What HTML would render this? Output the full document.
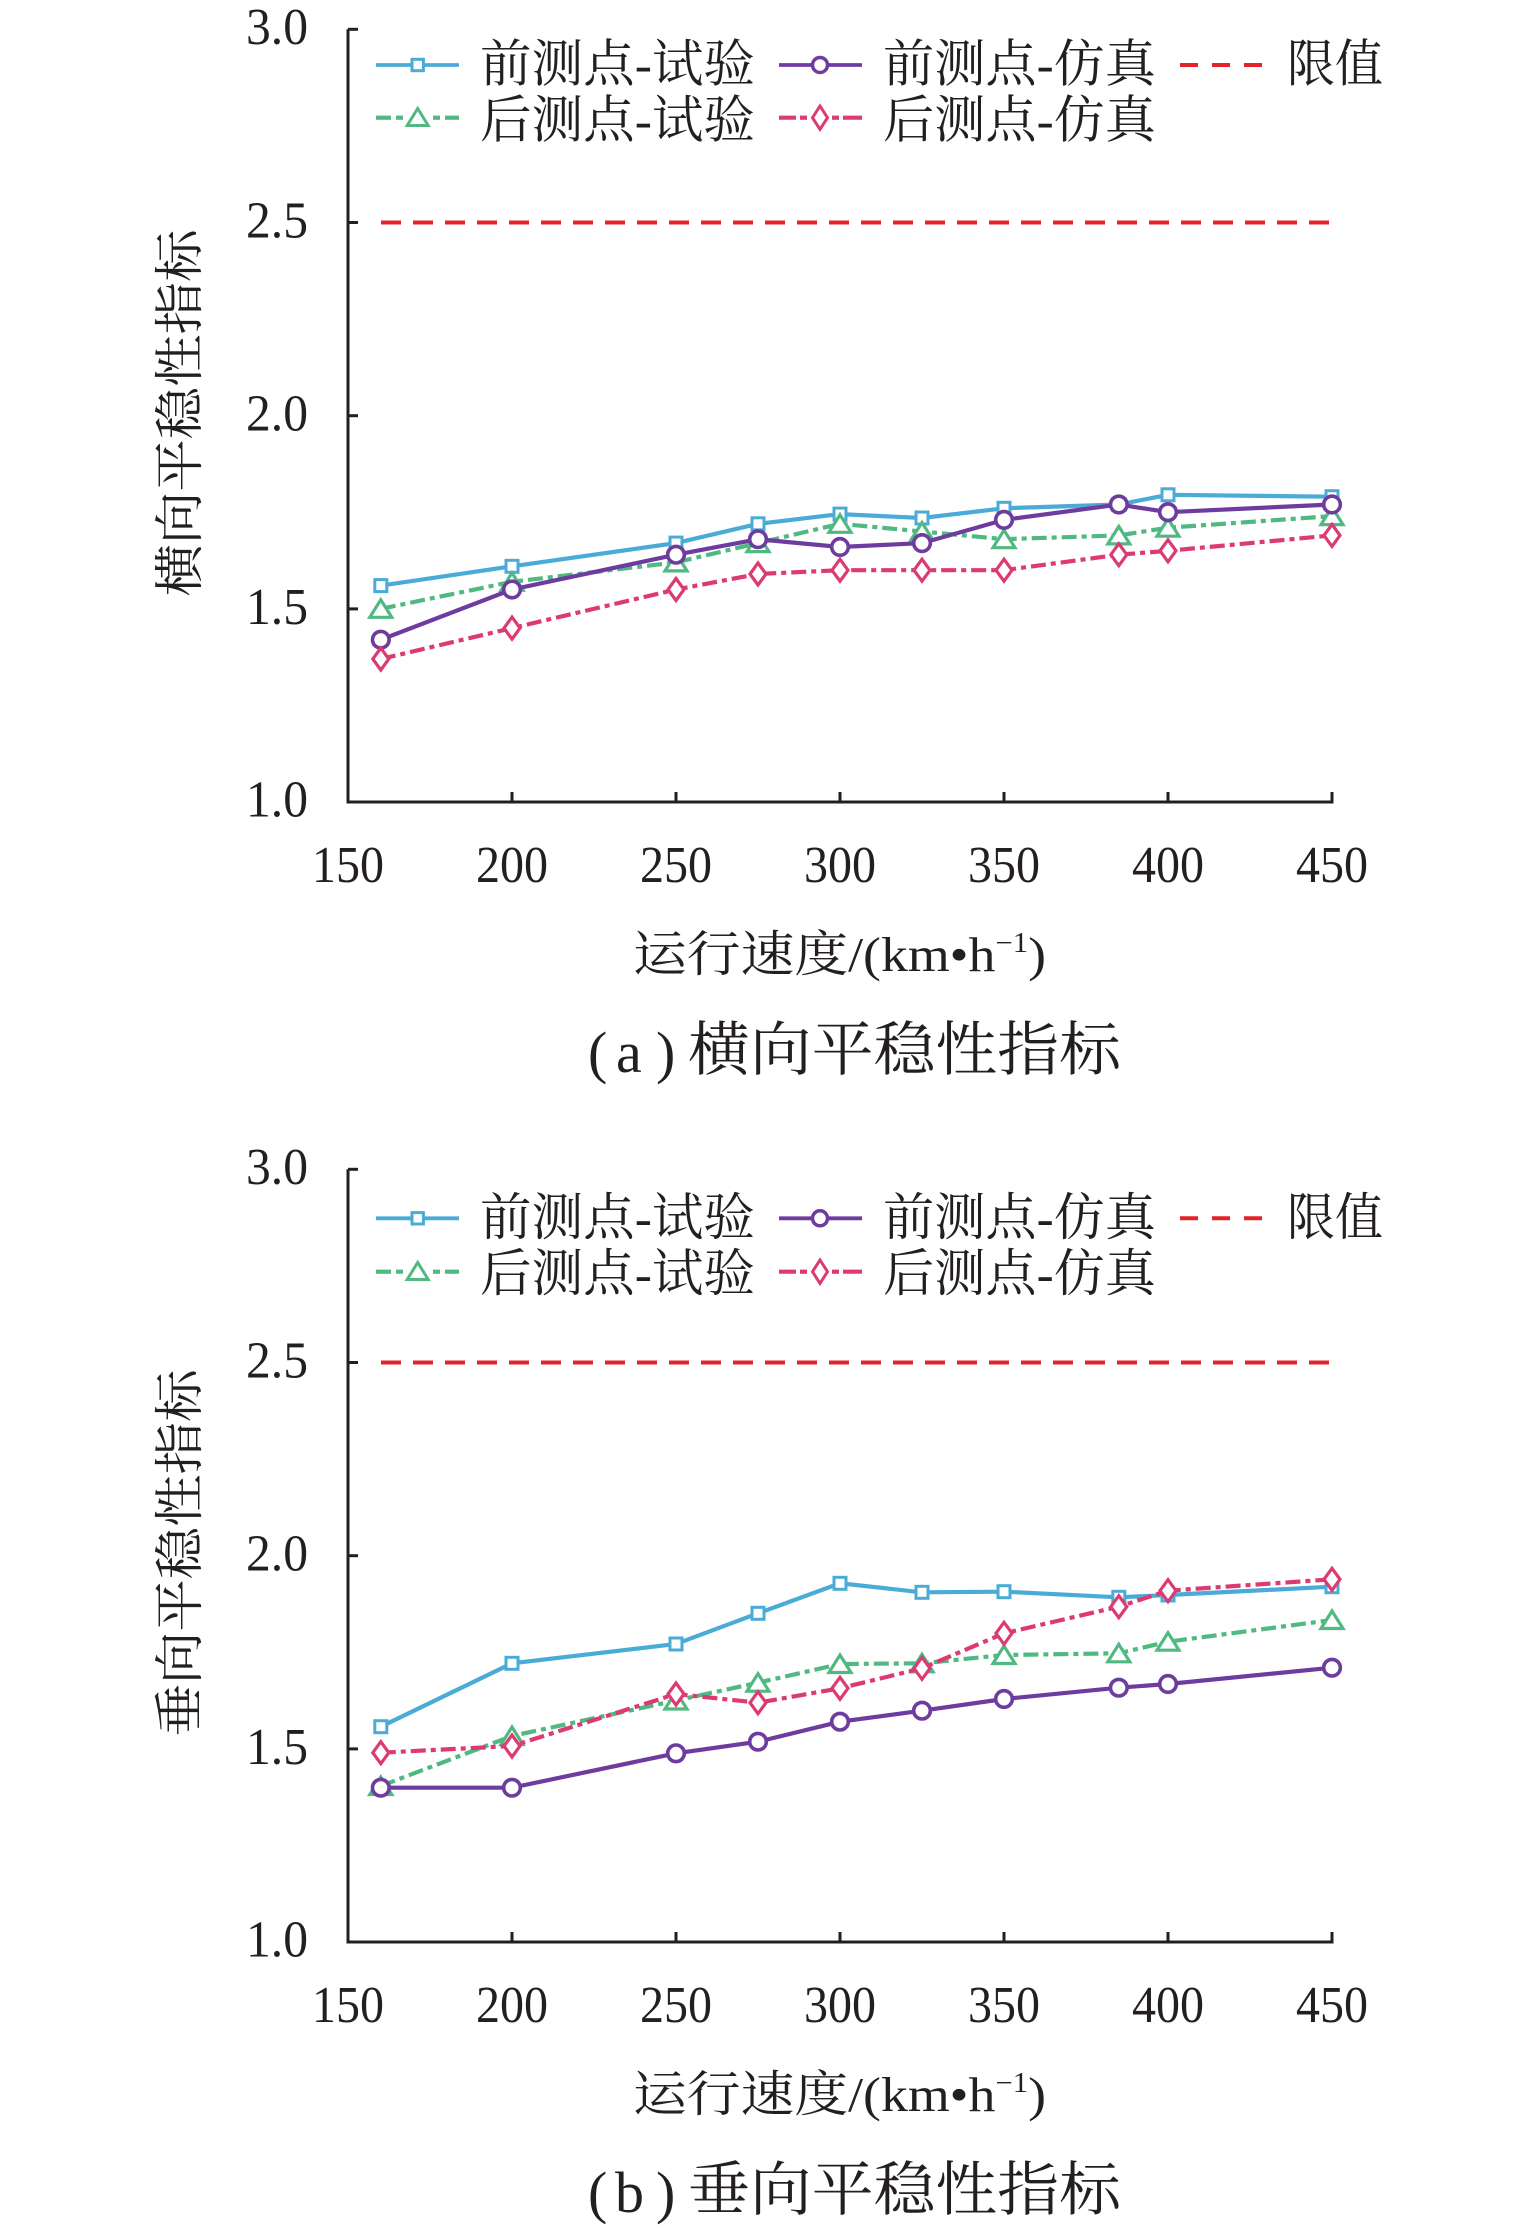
<!DOCTYPE html>
<html>
<head>
<meta charset="utf-8">
<style>
html,body{margin:0;padding:0;background:#fff;}
svg{display:block;}
text{font-family:"Liberation Serif","Noto Serif CJK SC",serif;fill:#231f20;}
</style>
</head>
<body>
<svg width="1535" height="2231" viewBox="0 0 1535 2231" xmlns="http://www.w3.org/2000/svg">
<defs>
  <marker id="mSq" markerUnits="userSpaceOnUse" markerWidth="30" markerHeight="30" refX="0" refY="0" overflow="visible">
    <rect x="-6" y="-6" width="12" height="12" fill="#fff" stroke="#4aacd6" stroke-width="3"/>
  </marker>
  <marker id="mCi" markerUnits="userSpaceOnUse" markerWidth="30" markerHeight="30" refX="0" refY="0" overflow="visible">
    <circle cx="0" cy="0" r="8.3" fill="#fff" stroke="#6e3b9f" stroke-width="3.6"/>
  </marker>
  <marker id="mTr" markerUnits="userSpaceOnUse" markerWidth="30" markerHeight="30" refX="0" refY="0" overflow="visible">
    <polygon points="0,-9 11,8.5 -11,8.5" fill="#fff" stroke="#50b981" stroke-width="3.2"/>
  </marker>
  <marker id="mDi" markerUnits="userSpaceOnUse" markerWidth="30" markerHeight="30" refX="0" refY="0" overflow="visible">
    <polygon points="0,-11 8,0 0,11 -8,0" fill="#fff" stroke="#dd3a73" stroke-width="3.2"/>
  </marker>
</defs>

<!-- ============ CHART A ============ -->
<g id="axesA">
  <g stroke="#231f20" stroke-width="3" fill="none">
    <line x1="348" y1="29.3" x2="348" y2="803.5"/>
    <line x1="346.5" y1="802" x2="1333.5" y2="802"/>
    <line x1="348" y1="29.3" x2="358" y2="29.3"/>
    <line x1="348" y1="222.5" x2="358" y2="222.5"/>
    <line x1="348" y1="415.7" x2="358" y2="415.7"/>
    <line x1="348" y1="608.9" x2="358" y2="608.9"/>
    <line x1="512" y1="802" x2="512" y2="792"/>
    <line x1="676" y1="802" x2="676" y2="792"/>
    <line x1="840" y1="802" x2="840" y2="792"/>
    <line x1="1004" y1="802" x2="1004" y2="792"/>
    <line x1="1168" y1="802" x2="1168" y2="792"/>
    <line x1="1332" y1="802" x2="1332" y2="792"/>
  </g>
  <g font-size="52" text-anchor="end">
    <text x="308" y="44" textLength="62" lengthAdjust="spacingAndGlyphs">3.0</text>
    <text x="308" y="237.5" textLength="62" lengthAdjust="spacingAndGlyphs">2.5</text>
    <text x="308" y="430.7" textLength="62" lengthAdjust="spacingAndGlyphs">2.0</text>
    <text x="308" y="623.9" textLength="62" lengthAdjust="spacingAndGlyphs">1.5</text>
    <text x="308" y="816.5" textLength="62" lengthAdjust="spacingAndGlyphs">1.0</text>
  </g>
  <g font-size="52" text-anchor="middle">
    <text x="348" y="882" textLength="72" lengthAdjust="spacingAndGlyphs">150</text>
    <text x="512" y="882" textLength="72" lengthAdjust="spacingAndGlyphs">200</text>
    <text x="676" y="882" textLength="72" lengthAdjust="spacingAndGlyphs">250</text>
    <text x="840" y="882" textLength="72" lengthAdjust="spacingAndGlyphs">300</text>
    <text x="1004" y="882" textLength="72" lengthAdjust="spacingAndGlyphs">350</text>
    <text x="1168" y="882" textLength="72" lengthAdjust="spacingAndGlyphs">400</text>
    <text x="1332" y="882" textLength="72" lengthAdjust="spacingAndGlyphs">450</text>
  </g>
  <text transform="translate(197,413) rotate(-90)" x="0" y="0" font-size="50" text-anchor="middle" textLength="367" lengthAdjust="spacingAndGlyphs">横向平稳性指标</text>
  <text x="633" y="971" font-size="49" textLength="413" lengthAdjust="spacingAndGlyphs">运行速度/(km•h<tspan dy="-19" font-size="28">−1</tspan><tspan dy="19">)</tspan></text>
  <text x="588" y="1072" font-size="58">(</text>
  <text x="616" y="1072" font-size="58">a</text>
  <text x="656" y="1072" font-size="58">)</text>
  <text x="688" y="1070" font-size="59" textLength="433" lengthAdjust="spacingAndGlyphs">横向平稳性指标</text>
</g>

<!-- legend A -->
<g>
  <line x1="376" y1="65" x2="459" y2="65" stroke="#4aacd6" stroke-width="3.8"/>
  <rect x="412" y="59.3" width="11.4" height="11.4" fill="#fff" stroke="#4aacd6" stroke-width="3"/>
  <g stroke="#50b981" stroke-width="4.2">
    <line x1="376" y1="117.7" x2="391" y2="117.7"/>
    <line x1="396" y1="117.7" x2="403" y2="117.7"/>
    <line x1="433" y1="117.7" x2="440" y2="117.7"/>
    <line x1="445" y1="117.7" x2="459" y2="117.7"/>
  </g>
  <polygon points="417.7,108.5 428.2,125.5 407.2,125.5" fill="#fff" stroke="#50b981" stroke-width="3"/>
  <line x1="779" y1="65" x2="862" y2="65" stroke="#6e3b9f" stroke-width="3.8"/>
  <circle cx="820" cy="65" r="7.5" fill="#fff" stroke="#6e3b9f" stroke-width="3.5"/>
  <g stroke="#dd3a73" stroke-width="4.2">
    <line x1="779" y1="117.7" x2="796" y2="117.7"/>
    <line x1="800" y1="117.7" x2="807" y2="117.7"/>
    <line x1="832" y1="117.7" x2="839" y2="117.7"/>
    <line x1="843" y1="117.7" x2="862" y2="117.7"/>
  </g>
  <polygon points="820,106 827.5,117.7 820,129.4 812.5,117.7" fill="#fff" stroke="#dd3a73" stroke-width="3"/>
  <line x1="1180" y1="65" x2="1263" y2="65" stroke="#e3232b" stroke-width="4" stroke-dasharray="18 14"/>
  <g font-size="51">
    <text x="480" y="81.5" textLength="275" lengthAdjust="spacingAndGlyphs">前测点-试验</text>
    <text x="480" y="137.5" textLength="275" lengthAdjust="spacingAndGlyphs">后测点-试验</text>
    <text x="883" y="81.5" textLength="273" lengthAdjust="spacingAndGlyphs">前测点-仿真</text>
    <text x="883" y="137.5" textLength="273" lengthAdjust="spacingAndGlyphs">后测点-仿真</text>
    <text x="1287" y="81.5" textLength="96" lengthAdjust="spacingAndGlyphs">限值</text>
  </g>
</g>

<!-- data A -->
<line x1="381" y1="222.5" x2="1333" y2="222.5" stroke="#e3232b" stroke-width="4" stroke-dasharray="20 12"/>
<polyline fill="none" stroke="#4aacd6" stroke-width="4.2" marker-start="url(#mSq)" marker-mid="url(#mSq)" marker-end="url(#mSq)"
  points="380.8,585.6 512,566.3 676,543.1 758,523.8 840,514.1 922,518 1004,508.3 1118.8,504.5 1168,494.8 1332,496.7"/>
<polyline fill="none" stroke="#50b981" stroke-width="4.2" stroke-dasharray="15 5 5 5" marker-start="url(#mTr)" marker-mid="url(#mTr)" marker-end="url(#mTr)"
  points="380.8,608.8 512,581.8 676,562.4 758,543.1 840,523.8 922,531.5 1004,539.2 1118.8,535.4 1168,527.7 1332,516.1"/>
<polyline fill="none" stroke="#6e3b9f" stroke-width="4.2" marker-start="url(#mCi)" marker-mid="url(#mCi)" marker-end="url(#mCi)"
  points="380.8,639.7 512,589.5 676,554.7 758,539.2 840,547 922,543.1 1004,519.9 1118.8,504.5 1168,512.2 1332,504.5"/>
<polyline fill="none" stroke="#dd3a73" stroke-width="4.2" stroke-dasharray="15 5 5 5" marker-start="url(#mDi)" marker-mid="url(#mDi)" marker-end="url(#mDi)"
  points="380.8,659 512,628.1 676,589.5 758,574 840,570.2 922,570.2 1004,570.2 1118.8,554.7 1168,550.8 1332,535.4"/>

<!-- ============ CHART B ============ -->
<g transform="translate(0,1140)">
  <g stroke="#231f20" stroke-width="3" fill="none">
    <line x1="348" y1="29.3" x2="348" y2="803.5"/>
    <line x1="346.5" y1="802" x2="1333.5" y2="802"/>
    <line x1="348" y1="29.3" x2="358" y2="29.3"/>
    <line x1="348" y1="222.5" x2="358" y2="222.5"/>
    <line x1="348" y1="415.7" x2="358" y2="415.7"/>
    <line x1="348" y1="608.9" x2="358" y2="608.9"/>
    <line x1="512" y1="802" x2="512" y2="792"/>
    <line x1="676" y1="802" x2="676" y2="792"/>
    <line x1="840" y1="802" x2="840" y2="792"/>
    <line x1="1004" y1="802" x2="1004" y2="792"/>
    <line x1="1168" y1="802" x2="1168" y2="792"/>
    <line x1="1332" y1="802" x2="1332" y2="792"/>
  </g>
  <g font-size="52" text-anchor="end">
    <text x="308" y="44" textLength="62" lengthAdjust="spacingAndGlyphs">3.0</text>
    <text x="308" y="237.5" textLength="62" lengthAdjust="spacingAndGlyphs">2.5</text>
    <text x="308" y="430.7" textLength="62" lengthAdjust="spacingAndGlyphs">2.0</text>
    <text x="308" y="623.9" textLength="62" lengthAdjust="spacingAndGlyphs">1.5</text>
    <text x="308" y="816.5" textLength="62" lengthAdjust="spacingAndGlyphs">1.0</text>
  </g>
  <g font-size="52" text-anchor="middle">
    <text x="348" y="882" textLength="72" lengthAdjust="spacingAndGlyphs">150</text>
    <text x="512" y="882" textLength="72" lengthAdjust="spacingAndGlyphs">200</text>
    <text x="676" y="882" textLength="72" lengthAdjust="spacingAndGlyphs">250</text>
    <text x="840" y="882" textLength="72" lengthAdjust="spacingAndGlyphs">300</text>
    <text x="1004" y="882" textLength="72" lengthAdjust="spacingAndGlyphs">350</text>
    <text x="1168" y="882" textLength="72" lengthAdjust="spacingAndGlyphs">400</text>
    <text x="1332" y="882" textLength="72" lengthAdjust="spacingAndGlyphs">450</text>
  </g>
  <text transform="translate(197,413) rotate(-90)" x="0" y="0" font-size="50" text-anchor="middle" textLength="367" lengthAdjust="spacingAndGlyphs">垂向平稳性指标</text>
  <text x="633" y="971" font-size="49" textLength="413" lengthAdjust="spacingAndGlyphs">运行速度/(km•h<tspan dy="-19" font-size="28">−1</tspan><tspan dy="19">)</tspan></text>
  <text x="588" y="1072" font-size="58">(</text>
  <text x="615" y="1072" font-size="58">b</text>
  <text x="656" y="1072" font-size="58">)</text>
  <text x="688" y="1070" font-size="59" textLength="433" lengthAdjust="spacingAndGlyphs">垂向平稳性指标</text>
</g>

<!-- legend B -->
<g transform="translate(0,1153.3)">
  <line x1="376" y1="65" x2="459" y2="65" stroke="#4aacd6" stroke-width="3.8"/>
  <rect x="412" y="59.3" width="11.4" height="11.4" fill="#fff" stroke="#4aacd6" stroke-width="3"/>
  <g stroke="#50b981" stroke-width="4.2">
    <line x1="376" y1="118.4" x2="391" y2="118.4"/>
    <line x1="396" y1="118.4" x2="403" y2="118.4"/>
    <line x1="433" y1="118.4" x2="440" y2="118.4"/>
    <line x1="445" y1="118.4" x2="459" y2="118.4"/>
  </g>
  <polygon points="417.7,109.2 428.2,126.2 407.2,126.2" fill="#fff" stroke="#50b981" stroke-width="3"/>
  <line x1="779" y1="65" x2="862" y2="65" stroke="#6e3b9f" stroke-width="3.8"/>
  <circle cx="820" cy="65" r="7.5" fill="#fff" stroke="#6e3b9f" stroke-width="3.5"/>
  <g stroke="#dd3a73" stroke-width="4.2">
    <line x1="779" y1="118.4" x2="796" y2="118.4"/>
    <line x1="800" y1="118.4" x2="807" y2="118.4"/>
    <line x1="832" y1="118.4" x2="839" y2="118.4"/>
    <line x1="843" y1="118.4" x2="862" y2="118.4"/>
  </g>
  <polygon points="820,106.7 827.5,118.4 820,130.1 812.5,118.4" fill="#fff" stroke="#dd3a73" stroke-width="3"/>
  <line x1="1180" y1="65" x2="1263" y2="65" stroke="#e3232b" stroke-width="4" stroke-dasharray="18 14"/>
  <g font-size="51">
    <text x="480" y="81.5" textLength="275" lengthAdjust="spacingAndGlyphs">前测点-试验</text>
    <text x="480" y="137.5" textLength="275" lengthAdjust="spacingAndGlyphs">后测点-试验</text>
    <text x="883" y="81.5" textLength="273" lengthAdjust="spacingAndGlyphs">前测点-仿真</text>
    <text x="883" y="137.5" textLength="273" lengthAdjust="spacingAndGlyphs">后测点-仿真</text>
    <text x="1287" y="81.5" textLength="96" lengthAdjust="spacingAndGlyphs">限值</text>
  </g>
</g>

<!-- data B -->
<line x1="381" y1="1362.5" x2="1333" y2="1362.5" stroke="#e3232b" stroke-width="4" stroke-dasharray="20 12"/>
<polyline fill="none" stroke="#4aacd6" stroke-width="4.2" marker-start="url(#mSq)" marker-mid="url(#mSq)" marker-end="url(#mSq)"
  points="380.8,1726.7 512,1663.3 676,1644 758,1613.3 840,1583.3 922,1592.3 1004,1591.7 1118.8,1597.3 1168,1595 1332,1586.7"/>
<polyline fill="none" stroke="#50b981" stroke-width="4.2" stroke-dasharray="15 5 5 5" marker-start="url(#mTr)" marker-mid="url(#mTr)" marker-end="url(#mTr)"
  points="380.8,1786 512,1736 676,1700.5 758,1682.7 840,1664 922,1663.3 1004,1655 1118.8,1653.3 1168,1641.7 1332,1620"/>
<polyline fill="none" stroke="#6e3b9f" stroke-width="4.2" marker-start="url(#mCi)" marker-mid="url(#mCi)" marker-end="url(#mCi)"
  points="380.8,1787.7 512,1787.7 676,1753.3 758,1741.7 840,1721.7 922,1710.7 1004,1699 1118.8,1687.7 1168,1684 1332,1667.7"/>
<polyline fill="none" stroke="#dd3a73" stroke-width="4.2" stroke-dasharray="15 5 5 5" marker-start="url(#mDi)" marker-mid="url(#mDi)" marker-end="url(#mDi)"
  points="380.8,1752.7 512,1746 676,1694 758,1702.7 840,1688.3 922,1668.3 1004,1633.3 1118.8,1606.7 1168,1590.7 1332,1579.3"/>
</svg>
</body>
</html>
